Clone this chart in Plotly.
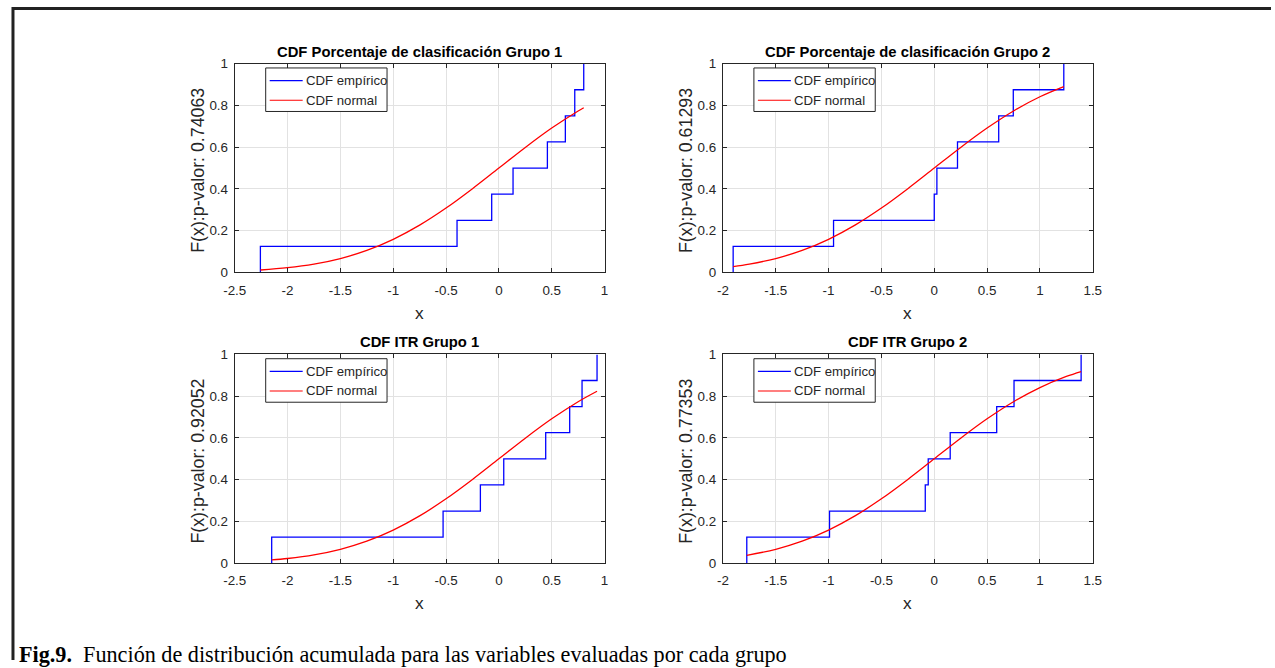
import plotly.graph_objects as go

W, H = 1280, 668

# ---------------- data ----------------
ecdf_levels = [0.0, 0.125, 0.25, 0.375, 0.5, 0.625, 0.75, 0.875, 1.0]

pct_g1_x = [-2.257, -0.396, -0.068, 0.134, 0.459, 0.629, 0.718, 0.803]
pct_g2_x = [-1.903, -0.953, 0.000, 0.025, 0.220, 0.610, 0.748, 1.226]
itr_g1_x = [-2.150, -0.528, -0.175, 0.046, 0.443, 0.670, 0.787, 0.929]
itr_g2_x = [-1.774, -0.991, -0.085, -0.057, 0.151, 0.591, 0.755, 1.390]

norm_pct_g1_x = [-2.257, -2.0, -1.75, -1.5, -1.25, -1.0, -0.75, -0.5, -0.25, 0.0, 0.25, 0.5, 0.75, 0.803]
norm_pct_g1_y = [0.012, 0.0228, 0.0401, 0.0668, 0.1056, 0.1587, 0.2266, 0.3085, 0.4013, 0.5, 0.5987, 0.6915, 0.7734, 0.789]

norm_pct_g2_x = [-1.903, -1.75, -1.5, -1.25, -1.0, -0.75, -0.5, -0.25, 0.0, 0.25, 0.5, 0.75, 1.0, 1.226]
norm_pct_g2_y = [0.0285, 0.0401, 0.0668, 0.1056, 0.1587, 0.2266, 0.3085, 0.4013, 0.5, 0.5987, 0.6915, 0.7734, 0.8413, 0.890]

norm_itr_g1_x = [-2.150, -2.0, -1.75, -1.5, -1.25, -1.0, -0.75, -0.5, -0.25, 0.0, 0.25, 0.5, 0.75, 0.929]
norm_itr_g1_y = [0.0158, 0.0228, 0.0401, 0.0668, 0.1056, 0.1587, 0.2266, 0.3085, 0.4013, 0.5, 0.5987, 0.6915, 0.7734, 0.8236]

norm_itr_g2_x = [-1.774, -1.5, -1.25, -1.0, -0.75, -0.5, -0.25, 0.0, 0.25, 0.5, 0.75, 1.0, 1.25, 1.390]
norm_itr_g2_y = [0.038, 0.0668, 0.1056, 0.1587, 0.2266, 0.3085, 0.4013, 0.5, 0.5987, 0.6915, 0.7734, 0.8413, 0.8944, 0.918]

titles = ["CDF Porcentaje de clasificación Grupo 1", "CDF Porcentaje de clasificación Grupo 2",
          "CDF ITR Grupo 1", "CDF ITR Grupo 2"]
ylabels = ["F(x):p-valor: 0.74063", "F(x):p-valor: 0.61293",
           "F(x):p-valor: 0.92052", "F(x):p-valor: 0.77353"]
xticks_a = [-2.5, -2, -1.5, -1, -0.5, 0, 0.5, 1]
xticks_b = [-2, -1.5, -1, -0.5, 0, 0.5, 1, 1.5]
yticks = [0, 0.2, 0.4, 0.6, 0.8, 1]
legend_names = ["CDF empírico", "CDF normal"]
caption_bold = "Fig.9."
caption_text = "Función de distribución acumulada para las variables evaluadas por cada grupo"

# ---------------- layout helpers ----------------
# target positions are given in screenshot pixels; the capture maps figure px -> screen
# roughly as screen = s*fig + c, so invert that here.
SX, CX = 0.984, 10.5
SY, CY = 0.975, 7.5

def fx(p):
    return (p - CX) / SX

def fy(p):
    return (p - CY) / SY

def px_x(p):
    return fx(p) / W

def px_y(p):
    return 1 - fy(p) / H

panels = [
    dict(emp=pct_g1_x, nx=norm_pct_g1_x, ny=norm_pct_g1_y, xt=xticks_a, L=233.3, R=603.3, T=64.0, B=272.3),
    dict(emp=pct_g2_x, nx=norm_pct_g2_x, ny=norm_pct_g2_y, xt=xticks_b, L=721.7, R=1091.7, T=64.0, B=272.3),
    dict(emp=itr_g1_x, nx=norm_itr_g1_x, ny=norm_itr_g1_y, xt=xticks_a, L=233.3, R=603.3, T=354.0, B=562.3),
    dict(emp=itr_g2_x, nx=norm_itr_g2_x, ny=norm_itr_g2_y, xt=xticks_b, L=721.7, R=1091.7, T=354.0, B=562.3),
]

FONT = "Liberation Sans, Arial, Helvetica, sans-serif"
AX = "#262626"
GRID = "#e2e2e2"
BLUE = "#0000ff"
RED = "#ff0000"

fig = go.Figure()
annotations = []
shapes = []
layout_axes = {}


def fmt(v):
    return "%g" % v


for i, p in enumerate(panels):
    k = "" if i == 0 else str(i + 1)
    xa, ya = "x" + k, "y" + k
    ex = [p["emp"][0]] + p["emp"]
    fig.add_trace(go.Scatter(x=ex, y=ecdf_levels, mode="lines", line=dict(color=BLUE, width=1.3, shape="hv"),
                             name=legend_names[0], xaxis=xa, yaxis=ya, showlegend=False))
    fig.add_trace(go.Scatter(x=p["nx"], y=p["ny"], mode="lines", line=dict(color=RED, width=1.3, shape="spline"),
                             name=legend_names[1], xaxis=xa, yaxis=ya, showlegend=False))
    xt = p["xt"]
    common = dict(showline=True, linecolor=AX, linewidth=1, mirror="ticks", ticks="inside", ticklen=4,
                  tickcolor=AX, tickwidth=1, showgrid=True, gridcolor=GRID, gridwidth=1, zeroline=False,
                  tickfont=dict(family=FONT, size=13.4, color=AX))
    layout_axes["xaxis" + k] = dict(common, domain=[px_x(p["L"]), px_x(p["R"])], range=[xt[0], xt[-1]],
                                    tickvals=xt, ticktext=[fmt(v) for v in xt], anchor=ya, ticklabelstandoff=5)
    layout_axes["yaxis" + k] = dict(common, domain=[px_y(p["B"]), px_y(p["T"])], range=[0, 1],
                                    tickvals=yticks, ticktext=[fmt(v) for v in yticks], anchor=xa, ticklabelstandoff=3)

    # legend box (MATLAB style)
    lx0, ly0 = p["L"] + 31, p["T"] + 4.3
    lx1, ly1 = lx0 + 121.4, ly0 + 43.4
    shapes.append(dict(type="rect", xref="paper", yref="paper", x0=px_x(lx0), x1=px_x(lx1), y0=px_y(ly1), y1=px_y(ly0),
                       line=dict(color=AX, width=1), fillcolor="white", layer="above"))
    for j, (nm, col) in enumerate(zip(legend_names, [BLUE, RED])):
        yy = ly0 + 12.7 + j * 19.5
        shapes.append(dict(type="line", xref="paper", yref="paper", x0=px_x(lx0 + 4), x1=px_x(lx0 + 37),
                           y0=px_y(yy), y1=px_y(yy), line=dict(color=col, width=1.2), layer="above"))
        annotations.append(dict(text=nm, x=px_x(lx0 + 38), y=px_y(yy), xref="paper", yref="paper", showarrow=False,
                                xanchor="left", yanchor="middle", font=dict(family=FONT, size=13.2, color=AX)))

    cx = (p["L"] + p["R"]) / 2
    annotations.append(dict(text="<b>" + titles[i] + "</b>", x=px_x(cx), y=px_y(p["T"] - 12), xref="paper", yref="paper",
                            showarrow=False, xanchor="center", yanchor="middle",
                            font=dict(family=FONT, size=14.8, color="black")))
    annotations.append(dict(text="x", x=px_x(cx), y=px_y(p["B"] + 40), xref="paper", yref="paper",
                            showarrow=False, xanchor="center", yanchor="middle",
                            font=dict(family=FONT, size=17.3, color=AX)))
    annotations.append(dict(text=ylabels[i], x=px_x(p["L"] - 37), y=px_y((p["T"] + p["B"]) / 2 + 2), xref="paper", yref="paper",
                            showarrow=False, xanchor="center", yanchor="middle", textangle=-90,
                            font=dict(family=FONT, size=17.8, color=AX)))

annotations.append(dict(text="<b>" + caption_bold + "</b>  " + caption_text, x=px_x(16), y=px_y(653), xref="paper", yref="paper",
                        showarrow=False, xanchor="left", yanchor="middle",
                        font=dict(family="Liberation Serif, Times New Roman, serif", size=22.2, color="black")))

# page border (top and left)
bx = 1.0 / W
by = min(px_y(7.5), 1 - 1.5 / H)
shapes.append(dict(type="line", xref="paper", yref="paper", x0=0, x1=1.0, y0=by, y1=by,
                   line=dict(color="#222222", width=3)))
shapes.append(dict(type="line", xref="paper", yref="paper", x0=bx, x1=bx, y0=0, y1=by + 1.5 / H,
                   line=dict(color="#222222", width=3)))

fig.update_layout(width=W, height=H, margin=dict(l=0, r=0, t=0, b=0), paper_bgcolor="white", plot_bgcolor="white",
                  annotations=annotations, shapes=shapes, showlegend=False, **layout_axes)

fig.write_html("out.html")
